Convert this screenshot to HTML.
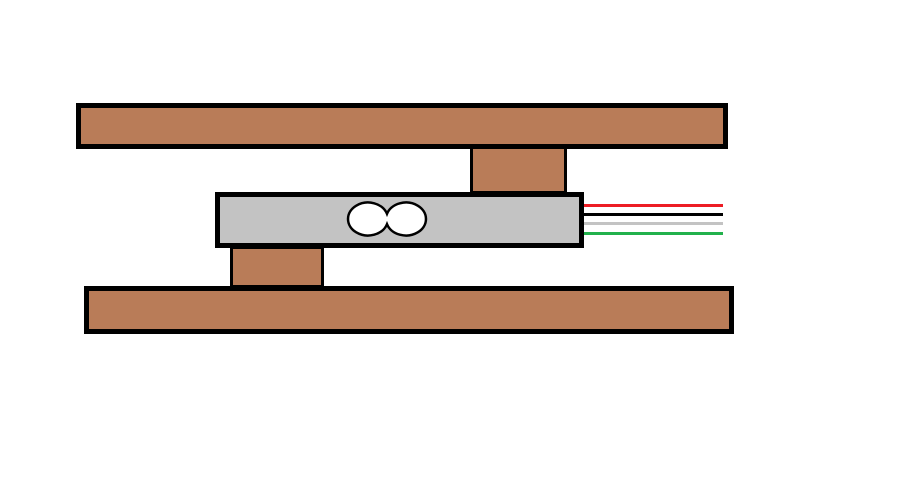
<!DOCTYPE html>
<html><head><meta charset="utf-8"><style>
html,body{margin:0;padding:0;background:#fff;width:919px;height:481px;overflow:hidden}
.r{position:absolute;box-sizing:border-box;border:5px solid #000;background:#b97c58}
.w{position:absolute;height:3px;left:584px;width:139px}
</style></head><body>
<div style="position:relative;width:919px;height:481px">
<div class="r" style="left:76px;top:103px;width:652px;height:46px"></div>
<div class="r" style="left:470px;top:146px;width:97px;height:48px;border-width:3px"></div>
<div class="r" style="left:84px;top:286px;width:650px;height:48px"></div>
<div class="r" style="left:230px;top:246px;width:94px;height:42px;border-width:3px"></div>
<div class="r" style="left:215px;top:192px;width:369px;height:56px;background:#c3c3c3"></div>
<svg style="position:absolute;left:340px;top:196px" width="95" height="46">
<path d="M47,17.8 A20,16.5 0 1,0 47,28.2 A20,16.5 0 1,0 47,17.8 Z" fill="#fff" stroke="#000" stroke-width="2.5"/>
</svg>
<div class="w" style="top:204px;background:#ed1c24"></div>
<div class="w" style="top:213px;background:#000"></div>
<div class="w" style="top:222px;background:#c3c3c3"></div>
<div class="w" style="top:232px;background:#22b14c"></div>
</div>
</body></html>
